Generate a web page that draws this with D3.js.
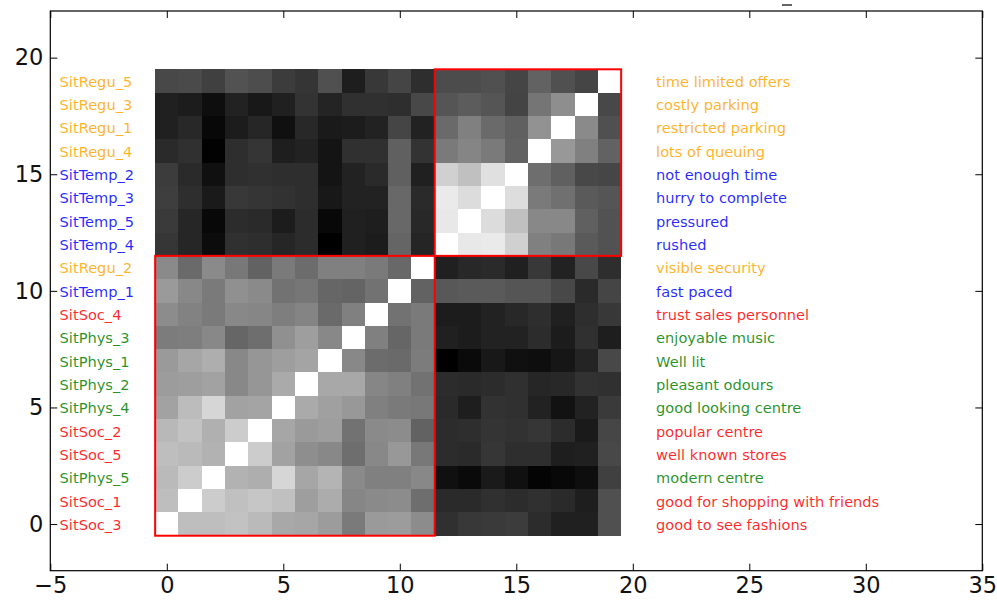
<!DOCTYPE html>
<html>
<head>
<meta charset="utf-8">
<script src="https://cdn.jsdelivr.net/npm/d3@7"></script>
<style>
	body { margin: 0; background: #fff; }
	text { font-family: "DejaVu Sans", sans-serif; }
</style>
</head>
<body>
<script>
// Row/column labels, bottom (index 0) to top (index 19)
var codes = ["SitSoc_3", "SitSoc_1", "SitPhys_5", "SitSoc_5", "SitSoc_2",
	"SitPhys_4", "SitPhys_2", "SitPhys_1", "SitPhys_3", "SitSoc_4",
	"SitTemp_1", "SitRegu_2", "SitTemp_4", "SitTemp_5", "SitTemp_3",
	"SitTemp_2", "SitRegu_4", "SitRegu_1", "SitRegu_3", "SitRegu_5"];

var descriptions = ["good to see fashions", "good for shopping with friends", "modern centre",
	"well known stores", "popular centre", "good looking centre", "pleasant odours",
	"Well lit", "enjoyable music", "trust sales personnel", "fast paced",
	"visible security", "rushed", "pressured", "hurry to complete", "not enough time",
	"lots of queuing", "restricted parking", "costly parking", "time limited offers"];

// colour per item group
var groupColors = { "Soc": "#ff0000", "Phys": "#008000", "Temp": "#0000ff", "Regu": "#ffa500" };

// cluster boxes [from, to] in cell index
var clusters = [[0, 11], [12, 19]];

// grey level of each cell (0 black .. 255 white), row 0 = bottom
var grayLevels = [
	[0xff,0xbe,0xbe,0xc2,0xba,0xa8,0xa6,0x9c,0x7a,0x9a,0x9c,0x8c,0x30,0x38,0x3a,0x3c,0x2c,0x20,0x20,0x50],
	[0xbe,0xff,0xcc,0xc0,0xc6,0xc0,0x9e,0xac,0x86,0x8a,0x8c,0x6e,0x2a,0x2a,0x30,0x2c,0x30,0x2a,0x1e,0x50],
	[0xba,0xcc,0xff,0xb2,0xae,0xd6,0xa6,0xb4,0x8a,0x80,0x80,0x88,0x10,0x0a,0x1a,0x10,0x04,0x08,0x0e,0x40],
	[0xbe,0xba,0xb2,0xff,0xcc,0xa2,0x8e,0x88,0x6e,0x88,0x98,0x78,0x2c,0x2a,0x36,0x2e,0x2e,0x1e,0x20,0x48],
	[0xb8,0xc2,0xb0,0xcc,0xff,0xa6,0x9a,0x9e,0x72,0x8a,0x8c,0x62,0x2c,0x2e,0x34,0x32,0x36,0x2c,0x1a,0x46],
	[0xa2,0xbc,0xd6,0xa2,0xa4,0xff,0xaa,0xa0,0x98,0x80,0x7a,0x78,0x2a,0x1e,0x32,0x30,0x22,0x12,0x22,0x3a],
	[0x9c,0x9e,0xa2,0x88,0x96,0xaa,0xff,0xa8,0xa8,0x86,0x80,0x72,0x2c,0x2a,0x2c,0x30,0x26,0x28,0x32,0x30],
	[0x9a,0xa6,0xae,0x88,0x96,0x9e,0xa4,0xff,0x88,0x6c,0x6a,0x7c,0x00,0x0a,0x18,0x10,0x0e,0x16,0x24,0x48],
	[0x7c,0x7e,0x88,0x66,0x6e,0x90,0x9e,0x88,0xff,0x80,0x66,0x7a,0x20,0x1c,0x22,0x22,0x2c,0x1c,0x30,0x1e],
	[0x8c,0x82,0x7a,0x88,0x86,0x7e,0x84,0x6a,0x80,0xff,0x72,0x7a,0x1c,0x1c,0x22,0x28,0x2e,0x20,0x2e,0x38],
	[0x9a,0x88,0x7a,0x90,0x8a,0x72,0x76,0x66,0x64,0x72,0xff,0x62,0x58,0x5a,0x5a,0x55,0x55,0x48,0x2a,0x45],
	[0x8a,0x6a,0x8a,0x78,0x62,0x7a,0x6c,0x80,0x80,0x7a,0x68,0xff,0x20,0x28,0x2a,0x20,0x38,0x22,0x48,0x2e],
	[0x36,0x26,0x0c,0x30,0x2e,0x26,0x2c,0x00,0x20,0x1c,0x65,0x25,0xff,0xe8,0xea,0xd0,0x80,0x78,0x5a,0x52],
	[0x3a,0x26,0x08,0x2c,0x2a,0x1c,0x2c,0x08,0x20,0x1e,0x68,0x28,0xe8,0xff,0xdc,0xc0,0x88,0x88,0x60,0x52],
	[0x3e,0x2e,0x1a,0x38,0x35,0x32,0x2e,0x18,0x22,0x22,0x68,0x2a,0xea,0xdc,0xff,0xdd,0x7a,0x70,0x5a,0x55],
	[0x3c,0x2a,0x10,0x2e,0x30,0x2e,0x2e,0x14,0x22,0x2a,0x60,0x20,0xd0,0xc0,0xe0,0xff,0x6e,0x60,0x48,0x46],
	[0x2a,0x30,0x02,0x2e,0x35,0x1e,0x22,0x14,0x30,0x30,0x60,0x33,0x7a,0x85,0x7a,0x62,0xff,0x98,0x80,0x62],
	[0x20,0x28,0x08,0x1c,0x26,0x10,0x28,0x1a,0x1c,0x22,0x45,0x22,0x6a,0x80,0x6a,0x60,0x92,0xff,0x8a,0x50],
	[0x20,0x1c,0x0e,0x22,0x18,0x20,0x33,0x24,0x30,0x30,0x2e,0x48,0x55,0x5c,0x55,0x44,0x75,0x8e,0xff,0x48],
	[0x48,0x4a,0x40,0x52,0x4d,0x3c,0x35,0x50,0x1e,0x38,0x45,0x2e,0x4c,0x4c,0x50,0x45,0x62,0x50,0x45,0xff]
];

var xTicks = [-5, 0, 5, 10, 15, 20, 25, 30, 35];
var yTicks = [0, 5, 10, 15, 20];

var width = 997, height = 600;
var x = d3.scaleLinear().domain([-5, 35]).range([50.3, 982.3]);
var y = d3.scaleLinear().domain([-2, 22]).range([570.7, 11]);
var grey = d3.scaleLinear().domain([0, 255]).range(["#000", "#fff"]);

var svg = d3.select("body").append("svg")
	.attr("width", width)
	.attr("height", height);

// flatten cells
var cells = [];
grayLevels.forEach(function(row, r) {
	row.forEach(function(v, c) { cells.push({ r: r, c: c, v: v }); });
});

svg.append("g")
	.attr("shape-rendering", "crispEdges")
	.selectAll("rect")
	.data(cells)
	.enter().append("rect")
	.attr("x", function(d) { return x(d.c - 0.5); })
	.attr("y", function(d) { return y(d.r + 0.5); })
	.attr("width", x(0.5) - x(-0.5))
	.attr("height", y(-0.5) - y(0.5))
	.attr("fill", function(d) { return grey(d.v); });

// red cluster boxes
svg.append("g")
	.selectAll("rect")
	.data(clusters)
	.enter().append("rect")
	.attr("x", function(d) { return x(d[0] - 0.5); })
	.attr("y", function(d) { return y(d[1] + 0.5); })
	.attr("width", function(d) { return x(d[1] + 0.5) - x(d[0] - 0.5); })
	.attr("height", function(d) { return y(d[0] - 0.5) - y(d[1] + 0.5); })
	.attr("fill", "none")
	.attr("stroke", "#ff0000")
	.attr("stroke-width", 2);

function groupColor(code) {
	return groupColors[code.replace("Sit", "").split("_")[0]];
}

// labels left and right
svg.append("g")
	.selectAll("text")
	.data(codes)
	.enter().append("text")
	.attr("x", x(-4.6))
	.attr("y", function(d, i) { return y(i); })
	.attr("dy", "0.4em")
	.attr("font-size", 14.6)
	.attr("fill", function(d) { return groupColor(d); })
	.attr("fill-opacity", 0.85)
	.text(function(d) { return d; });

svg.append("g")
	.selectAll("text")
	.data(descriptions)
	.enter().append("text")
	.attr("x", x(21))
	.attr("y", function(d, i) { return y(i); })
	.attr("dy", "0.4em")
	.attr("font-size", 14.6)
	.attr("fill", function(d, i) { return groupColor(codes[i]); })
	.attr("fill-opacity", 0.85)
	.text(function(d) { return d; });

// axes, ticks pointing inwards
function fmt(d) { return d < 0 ? "\u2212" + Math.abs(d) : String(d); }

var axes = [
	svg.append("g").attr("transform", "translate(0," + y(-2) + ")")
		.call(d3.axisBottom(x).tickValues(xTicks).tickFormat(fmt).tickSizeInner(-7).tickSizeOuter(0).tickPadding(6)),
	svg.append("g").attr("transform", "translate(0," + y(22) + ")")
		.call(d3.axisTop(x).tickValues(xTicks).tickFormat("").tickSizeInner(-7).tickSizeOuter(0)),
	svg.append("g").attr("transform", "translate(" + x(-5) + ",0)")
		.call(d3.axisLeft(y).tickValues(yTicks).tickFormat(fmt).tickSizeInner(-7).tickSizeOuter(0).tickPadding(7)),
	svg.append("g").attr("transform", "translate(" + x(35) + ",0)")
		.call(d3.axisRight(y).tickValues(yTicks).tickFormat("").tickSizeInner(-7).tickSizeOuter(0))
];
axes.forEach(function(a) {
	a.select(".domain").remove();
	a.selectAll("text").attr("font-size", 22.5).attr("fill", "#111").attr("font-family", "DejaVu Sans");
	a.selectAll(".tick line").attr("stroke", "#000");
});

// frame
svg.append("rect")
	.attr("x", x(-5))
	.attr("y", y(22))
	.attr("width", x(35) - x(-5))
	.attr("height", y(-2) - y(22))
	.attr("fill", "none")
	.attr("stroke", "#000")
	.attr("stroke-width", 1.2);

// stray mark above the frame
svg.append("line")
	.attr("x1", 782).attr("x2", 792)
	.attr("y1", 5).attr("y2", 5)
	.attr("stroke", "#333")
	.attr("stroke-width", 1.5);
</script>
</body>
</html>
